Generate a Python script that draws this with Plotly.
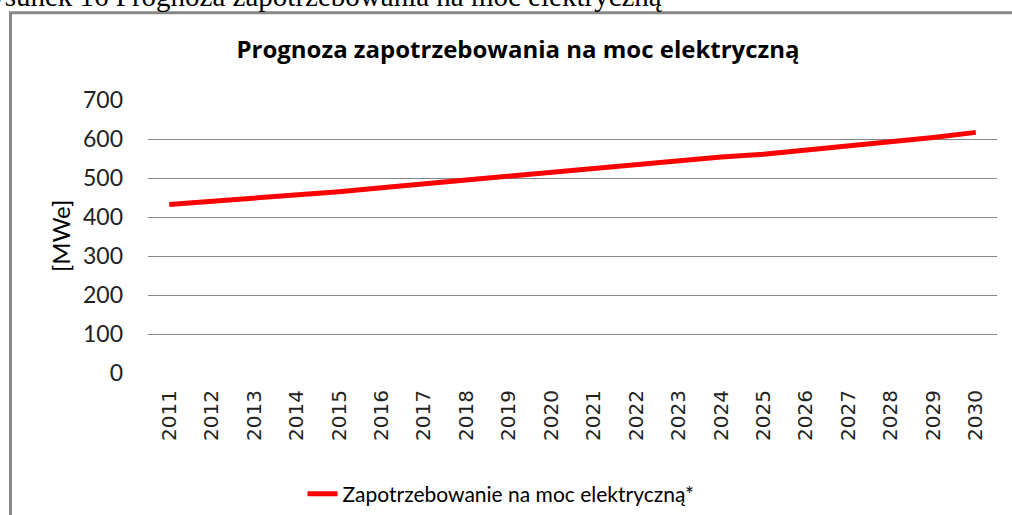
import plotly.graph_objects as go

years = [str(y) for y in range(2011, 2031)]
demand = [432, 440, 447, 456, 465, 475, 485, 494, 504, 514,
          524, 532, 545, 554, 561, 571, 582, 592, 604, 617]
y_ticks = [0, 100, 200, 300, 400, 500, 600, 700]

title_text = "Prognoza zapotrzebowania na moc elektryczną"
series_name = "Zapotrzebowanie na moc elektryczną*"
y_title = "[MWe]"
caption = "Rysunek 16 Prognoza zapotrzebowania na moc elektryczną"

W, H = 1012, 515
L, R, T, B = 148, 15, 99.5, 141.5
pw, ph = W - L - R, H - T - B

def px(x):
    return (x - L) / pw

def py(y):
    return (H - B - y) / ph

fig = go.Figure()
fig.add_trace(go.Scatter(
    x=years, y=demand, mode="lines", name=series_name,
    line=dict(color="#FF0000", width=5),
))

fig.update_layout(
    width=W, height=H,
    margin=dict(l=L, r=R, t=T, b=B, autoexpand=False),
    paper_bgcolor="white", plot_bgcolor="white",
    title=dict(text=f"<b>{title_text}</b>", x=518 / W, xref="container", xanchor="center",
               y=1 - 50 / H, yref="container", yanchor="middle",
               font=dict(family="Open Sans", size=24, color="#000000")),
    showlegend=True,
    legend=dict(orientation="h", x=px(501), xanchor="center", y=py(495), yanchor="middle",
                font=dict(family="Lato", size=21, color="#000000"),
                bgcolor="rgba(0,0,0,0)"),
    xaxis=dict(type="category", range=[-0.5, len(years) - 0.5], automargin=False,
               showgrid=False, showline=False, zeroline=False,
               tickangle=-90, ticks="", ticklabelstandoff=12,
               tickfont=dict(family="DejaVu Sans", size=20, color="#222222")),
    yaxis=dict(range=[0, 700], tickvals=y_ticks, automargin=False,
               showgrid=True, gridcolor="#868686", gridwidth=1.3,
               zeroline=False, showline=False, ticks="", ticklabelstandoff=24,
               tickfont=dict(family="Lato", size=23, color="#222222")),
    annotations=[
        dict(text=y_title, xref="paper", yref="paper", x=px(60), y=py(236),
             xanchor="center", yanchor="middle", textangle=-90, showarrow=False,
             font=dict(family="Lato", size=24, color="#000000")),
        dict(text=caption, xref="paper", yref="paper", x=px(665), y=py(13),
             xanchor="right", yanchor="bottom", showarrow=False,
             font=dict(family="Liberation Serif", size=29, color="#000000")),
    ],
    shapes=[
        dict(type="rect", xref="paper", yref="paper", x0=px(10.5), x1=px(1030),
             y0=py(530), y1=py(12), line=dict(color="#888888", width=3),
             fillcolor="rgba(0,0,0,0)", layer="below"),
    ],
)

fig.write_html("out.html", config={"displayModeBar": False},
               post_script="document.body.style.margin='0';")
